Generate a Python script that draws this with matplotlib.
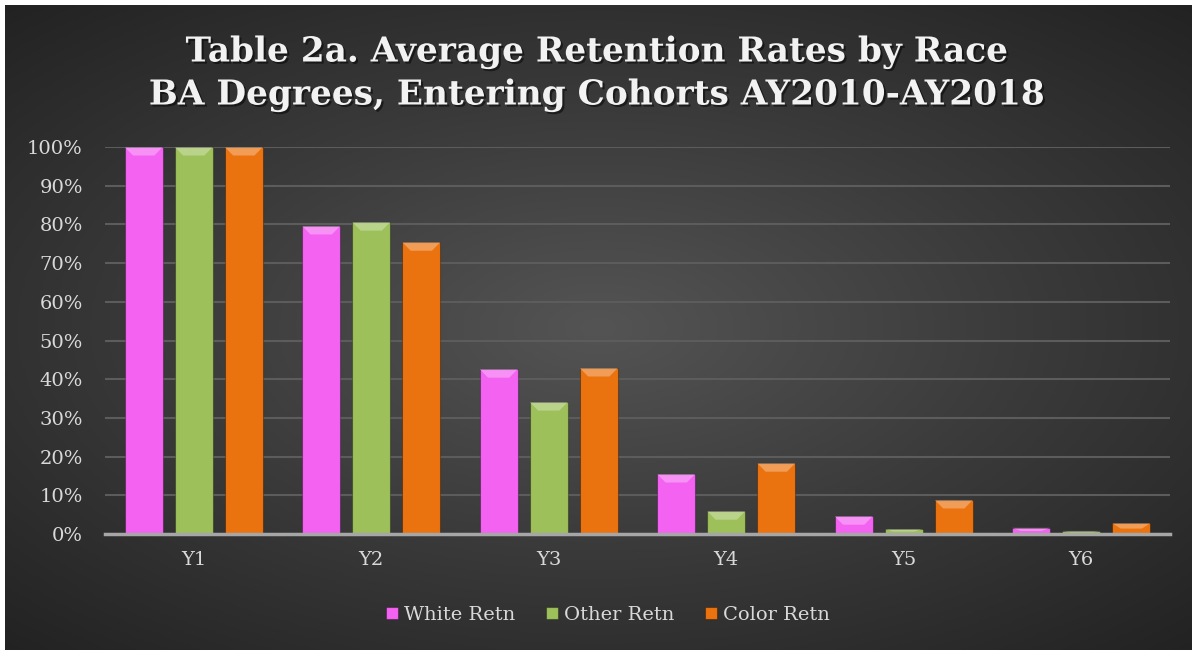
import numpy as np
import matplotlib
matplotlib.use("Agg")
from matplotlib import pyplot as plt
from matplotlib.patches import Polygon
from matplotlib.colors import LinearSegmentedColormap
import matplotlib.patheffects as pe

years = ["Y1", "Y2", "Y3", "Y4", "Y5", "Y6"]
white_retn = [100, 79.6, 42.6, 15.5, 4.6, 1.6]
other_retn = [100, 80.6, 34.1, 5.9, 1.3, 0.8]
color_retn = [100, 75.4, 42.9, 18.3, 8.8, 2.8]
series_names = ["White Retn", "Other Retn", "Color Retn"]
series_colors = ["#f462f2", "#9dc05a", "#eb730f"]

plt.rcParams['font.family'] = ['DejaVu Serif']

fig = plt.figure(figsize=(11.92, 6.5), dpi=100)
fig.patch.set_facecolor("white")

# dark radial background, lighter in the middle
bg = fig.add_axes([5 / 1192, 0, 1 - 5 / 1192, 1 - 5 / 650])
yy, xx = np.mgrid[-1:1:300j, -1:1:500j]
r = np.sqrt((xx * 0.85) ** 2 + (yy * 0.9) ** 2)
cmap = LinearSegmentedColormap.from_list("bg", ["#545454", "#3a3a3a", "#222222"])
bg.imshow(np.clip(r / 1.25, 0, 1), cmap=cmap, vmin=0, vmax=1, aspect="auto",
          extent=[0, 1, 0, 1])
bg.axis("off")

ax = fig.add_axes([105 / 1192, 1 - 534 / 650, (1170 - 105) / 1192, (534 - 147) / 650])
ax.set_facecolor("none")

x = np.arange(len(years))
w = 0.214
off = 0.282
bevel = 2.2
for i, (vals, col) in enumerate(zip([white_retn, other_retn, color_retn], series_colors)):
    bars = ax.bar(x + (i - 1) * off, vals, w, color=col, edgecolor="#00000050", linewidth=0.8,
                  label=series_names[i], zorder=3)
    for b in bars:
        h = b.get_height()
        bh = min(bevel, h * 0.5)
        x0, bw = b.get_x(), b.get_width()
        inset = bw * 0.22
        top = Polygon([[x0, h], [x0 + bw, h], [x0 + bw - inset, h - bh], [x0 + inset, h - bh]],
                      closed=True, facecolor="white", alpha=0.3, edgecolor="none", zorder=4)
        ax.add_patch(top)

ax.set_xlim(-0.5, 5.5)
ax.set_ylim(0, 100)
ax.set_yticks(np.arange(0, 101, 10))
ax.set_yticklabels([f"{v}%" for v in range(0, 101, 10)])
ax.set_xticks(x)
ax.set_xticklabels(years)
ax.yaxis.grid(True, color="#5c5c5c", linewidth=1.5, zorder=0)
ax.set_axisbelow(True)
for s in ["top", "right", "left"]:
    ax.spines[s].set_visible(False)
ax.spines["bottom"].set_color("#a6a6a6")
ax.spines["bottom"].set_linewidth(2.5)
ax.spines["bottom"].set_zorder(5)
ax.tick_params(axis="both", length=0, colors="#d9d9d9", labelsize=14)
ax.tick_params(axis="x", pad=12)
ax.tick_params(axis="y", pad=16)

shadow = [pe.withSimplePatchShadow(offset=(1.5, -1.5), shadow_rgbFace="black", alpha=0.5)]
fig.text(0.5, 1 - 52 / 650, "Table 2a. Average Retention Rates by Race",
         ha="center", va="center", fontsize=24.7, fontweight="bold", color="#f2f2f2",
         path_effects=shadow)
fig.text(0.5, 1 - 95 / 650, "BA Degrees, Entering Cohorts AY2010-AY2018",
         ha="center", va="center", fontsize=24.7, fontweight="bold", color="#f2f2f2",
         path_effects=shadow)

leg = fig.legend(loc="center", bbox_to_anchor=(0.51, 1 - 615 / 650), ncol=3, frameon=False,
                 fontsize=14, labelcolor="#d9d9d9", handlelength=0.6, handleheight=0.6,
                 handletextpad=0.3, columnspacing=1.6)

fig.savefig("out.png", dpi=100, facecolor=fig.get_facecolor())
